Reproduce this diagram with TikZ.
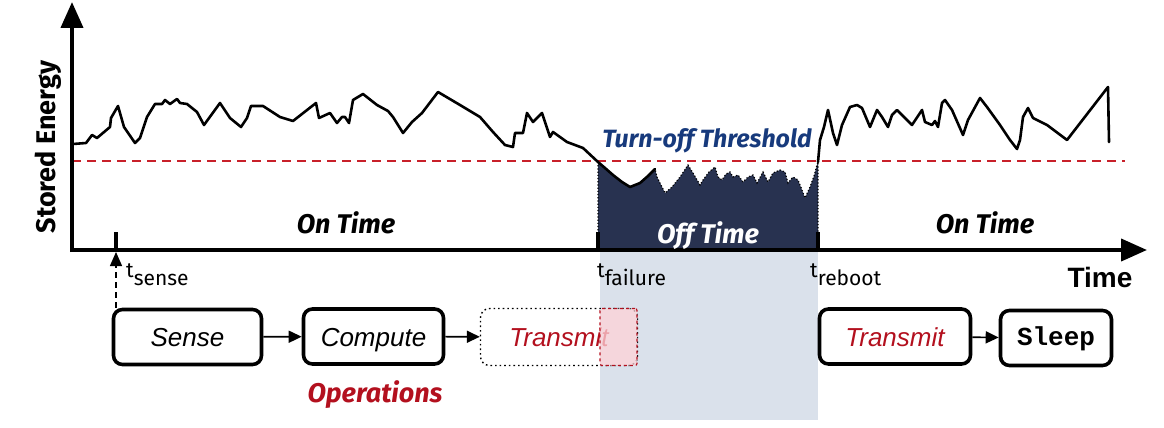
\documentclass[tikz,border=0pt]{standalone}
\usepackage{fontspec}
\setmainfont{Fira Sans}
\newfontfamily\arialf{Liberation Sans}
\newfontfamily\courf{Liberation Mono}
\usetikzlibrary{arrows.meta}
\definecolor{navy}{HTML}{283250}
\definecolor{offbg}{HTML}{DAE1EB}
\definecolor{opred}{HTML}{B3101E}
\definecolor{thred}{HTML}{C8202A}
\definecolor{thblue}{HTML}{173A7C}
\definecolor{pinkf}{HTML}{FFD3D8}
\begin{document}
\begin{tikzpicture}[x=1pt,y=-1pt,
  axis/.style={line width=4pt,-{Triangle[length=26pt,width=22pt]}},
  curve/.style={line width=2.6pt,line join=round,line cap=round},
  tick/.style={line width=4pt},
  opbox/.style={draw,line width=3.6pt,rounded corners=9pt,minimum height=55pt,inner sep=0pt,
    text height=19pt,text depth=0pt,
    font=\arialf\itshape\fontsize{26}{30}\selectfont},
  ghostbox/.style={draw,line width=1.4pt,dash pattern=on 1.6pt off 3pt,rounded corners=9pt,minimum height=57pt,inner sep=0pt,
    text height=19pt,text depth=0pt,
    font=\arialf\itshape\fontsize{26}{30}\selectfont},
  flow/.style={line width=1.6pt,-{Triangle[length=13pt,width=12pt]}},
  big/.style={font=\bfseries\itshape\fontsize{27}{32}\selectfont},
  tlab/.style={font=\fontsize{21}{24}\selectfont,anchor=base west,inner sep=0pt}
]
\useasboundingbox (0,0) rectangle (1164,428);
% off-time background band
\fill[offbg] (600,252) rectangle (818,420);
% threshold
\draw[thred,line width=1.5pt,dash pattern=on 9pt off 6pt] (72,161) -- (1125,161);
% off-time filled region
\filldraw[fill=navy,draw=black,dotted,line width=1.2pt] (598,162) -- (605,168) -- (613,175) -- (622,182) -- (630,187) -- (640,183) -- (648,176) -- (655,169) -- (657,177) -- (660,183) -- (665,193) -- (672,187) -- (680,177) -- (688,165) -- (693,173) -- (700,185) -- (703,180) -- (709,172) -- (715,167) -- (718,177) -- (722,180) -- (726,174) -- (730,172) -- (733,177) -- (738,175) -- (743,182) -- (748,177) -- (753,175) -- (757,183) -- (763,172) -- (768,182) -- (773,173) -- (780,170) -- (785,172) -- (788,183) -- (793,177) -- (798,180) -- (802,190) -- (805,198) -- (810,187) -- (814,176) -- (817,165) -- (818,162) -- (818,250) -- (598,250) -- cycle;
% energy curve
\draw[curve] plot coordinates {(73,144) (86,143) (92,135) (97,138) (110,127) (111,118) (118,106) (124,127) (135,143) (140,138) (147,117) (155,104) (162,104) (165,100) (170,104) (177,99) (180,103) (187,104) (197,112) (204,125) (220,103) (230,118) (241,127) (247,118) (251,106) (263,106) (280,117) (293,121) (316,103) (319,118) (330,113) (337,123) (342,117) (345,117) (349,123) (353,100) (363,94) (377,105) (388,111) (393,117) (403,133) (412,122) (422,113) (438,92) (460,105) (480,117) (493,132) (505,145) (513,147) (515,133) (523,133) (527,113) (533,122) (542,113) (550,137) (553,132) (567,142) (583,148) (598,162) (605,168) (613,175) (622,182) (630,187) (640,183) (648,176) (655,169)};
\draw[curve] plot coordinates {(818,162) (820,140) (824,127) (828,110) (833,133) (837,145) (842,125) (850,107) (857,105) (862,108) (870,127) (877,110) (882,117) (888,127) (892,115) (897,110) (907,120) (912,125) (922,110) (925,122) (932,125) (935,121) (938,127) (942,103) (945,100) (952,110) (963,135) (968,120) (980,98) (987,107) (1000,125) (1010,140) (1017,149) (1020,140) (1023,117) (1028,108) (1033,118) (1047,125) (1067,140) (1108,87) (1109,142)};
% axes
\draw[axis] (72,252) -- (72,2);
\draw[axis] (70,250) -- (1147,250);
% ticks
\draw[tick] (116,232) -- (116,250);
\draw[tick] (598,232) -- (598,250);
\draw[tick] (818,232) -- (818,250);
% labels
\node[rotate=90,font=\bfseries\fontsize{27}{32}\selectfont] (ylab) at (48,147) {Stored Energy};
\node[big,anchor=base] (on1) at (346,233) {On Time};
\node[big,anchor=base] (on2) at (985,233) {On Time};
\node[big,anchor=base,white] (off) at (708,243) {Off Time};
\node[anchor=base,thblue,font=\bfseries\itshape\fontsize{25}{30}\selectfont] (thr) at (707,147) {Turn-off Threshold};
\node[anchor=base,font=\arialf\bfseries\fontsize{28}{32}\selectfont] (time) at (1100,287) {Time};
\node[tlab] (ts) at (126,277) {t\raisebox{-8pt}{sense}};
\node[tlab] (tf) at (597,277) {t\raisebox{-8pt}{failure}};
\node[tlab] (tr) at (810,277) {t\raisebox{-8pt}{reboot}};
% operation boxes
\node[opbox,minimum width=148pt] (sense) at (187.5,337) {Sense};
\node[opbox,minimum width=140pt] (compute) at (373.5,336.5) {Compute};
\node[ghostbox,minimum width=157pt,text=opred] (tx1) at (559,337) {Transmit};
\node[draw=opred,dashed,line width=1.2pt,fill=pinkf,fill opacity=0.75,rounded corners=2pt,minimum width=37pt,minimum height=57pt,inner sep=0pt] (cut) at (618.5,337) {};
\node[opbox,minimum width=151pt,text=opred] (tx2) at (895,336.5) {Transmit};
\node[opbox,minimum width=111pt,font=\courf\bfseries\fontsize{26}{30}\selectfont,text height=15pt] (sleep) at (1056,338) {Sleep};
\node[anchor=base,opred,font=\bfseries\itshape\fontsize{27}{32}\selectfont] (ops) at (375,402) {Operations};
% connectors
\draw[flow] (sense) -- (compute);
\draw[flow] (compute) -- (tx1);
\draw[flow] (tx2) -- (sleep);
\coordinate (tsense) at (116,252);
\draw[line width=1.3pt,dash pattern=on 6pt off 4pt,-{Triangle[length=14pt,width=12pt]}] (tsense |- sense.north) -- (tsense);
\end{tikzpicture}
\end{document}
